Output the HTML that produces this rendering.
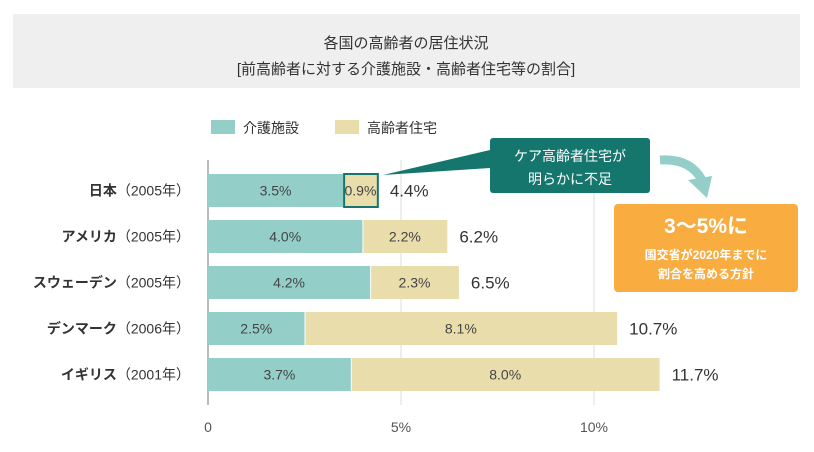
<!DOCTYPE html>
<html><head><meta charset="utf-8"><style>
body{margin:0;background:#fff;font-family:"Liberation Sans","Noto Sans CJK JP",sans-serif}
svg text{font-family:"Liberation Sans","Noto Sans CJK JP",sans-serif}
</style></head><body>
<svg id="chart" width="814" height="447" xmlns="http://www.w3.org/2000/svg">
<rect x="13" y="14" width="787" height="74" fill="#efefef"/>
<text x="406" y="48" text-anchor="middle" font-size="15" fill="#333">各国の高齢者の居住状況</text>
<text x="406" y="74" text-anchor="middle" font-size="15" fill="#333">[前高齢者に対する介護施設・高齢者住宅等の割合]</text>
<rect x="211" y="120" width="24" height="14" fill="#93cfc8"/>
<text x="243" y="133" font-size="14" fill="#333">介護施設</text>
<rect x="335" y="120" width="24" height="14" fill="#e9ddab"/>
<text x="367" y="133" font-size="14" fill="#333">高齢者住宅</text>
<g id="grid"></g><g id="bars"></g>
<polygon points="383,175 490,150 490,168" fill="#14766d"/>
<rect x="490" y="138" width="160" height="55" rx="3" fill="#14766d"/>
<text x="570" y="161" text-anchor="middle" font-size="14" fill="#fff">ケア高齢者住宅が</text>
<text x="570" y="184" text-anchor="middle" font-size="14" fill="#fff">明らかに不足</text>
<path d="M660,160 Q690,158 702,180" stroke="#93cfc8" stroke-width="9" fill="none"/>
<polygon points="688,180 712,176 707,198" fill="#93cfc8"/>
<rect x="614" y="204" width="184" height="88" rx="4" fill="#f9ac3f"/>
<text x="706" y="233" text-anchor="middle" font-size="21" font-weight="bold" fill="#fff">3〜5%に</text>
<text x="706" y="259" text-anchor="middle" font-size="12" font-weight="bold" fill="#fff">国交省が2020年までに</text>
<text x="706" y="278" text-anchor="middle" font-size="12" font-weight="bold" fill="#fff">割合を高める方針</text>
</svg>
<script>
const countries=["日本","アメリカ","スウェーデン","デンマーク","イギリス"];
const years=["（2005年）","（2005年）","（2005年）","（2006年）","（2001年）"];
const care=[3.5,4.0,4.2,2.5,3.7];
const housing=[0.9,2.2,2.3,8.1,8.0];
const totals=[4.4,6.2,6.5,10.7,11.7];
const ticks=[0,5,10];
const tickLabels=["0","5%","10%"];
const NS="http://www.w3.org/2000/svg";
const x0=208,k=38.6;
const X=v=>x0+v*k;
const Y=i=>174+i*46;
function mk(tag,a,p){const e=document.createElementNS(NS,tag);for(const n in a)e.setAttribute(n,a[n]);p.appendChild(e);return e;}
const g=document.getElementById('grid'),b=document.getElementById('bars');
ticks.forEach((t,i)=>{
 if(t>0){const l=mk('line',{x1:X(t),x2:X(t),y1:160,y2:405,stroke:'#ddd','stroke-width':1},g);
 
 }
 const tx=mk('text',{x:X(t),y:432,'text-anchor':'middle','font-size':14,fill:'#555'},g);tx.textContent=tickLabels[i];
 
 
});
const ax=mk('line',{x1:x0,x2:x0,y1:160,y2:405,stroke:'#bbb','stroke-width':2},g);


countries.forEach((c,i)=>{
 const y=Y(i),h=33,cy=y+h/2+5;
 const lab=mk('text',{x:190,y:cy,'text-anchor':'end','font-size':14,fill:'#333'},b);
 lab.innerHTML='<tspan font-weight="bold">'+c+'</tspan>'+years[i];
 
 
 const r1=mk('rect',{x:x0,y:y,width:X(care[i])-x0,height:h,fill:'#93cfc8'},b);
 
 
 const r2=mk('rect',{x:X(care[i])+1,y:y,width:X(care[i]+housing[i])-X(care[i])-1,height:h,fill:'#e9ddab'},b);
 
 
 if(i===0){r2.setAttribute('stroke','#14766d');r2.setAttribute('stroke-width','2');}
 const t1=mk('text',{x:(x0+X(care[i]))/2,y:cy,'text-anchor':'middle','font-size':14,fill:'#444'},b);t1.textContent=care[i].toFixed(1)+'%';
 
 
 const t2=mk('text',{x:(X(care[i])+X(care[i]+housing[i]))/2,y:cy,'text-anchor':'middle','font-size':14,fill:'#444'},b);t2.textContent=housing[i].toFixed(1)+'%';
 
 
 const t3=mk('text',{x:X(care[i]+housing[i])+12,y:cy+1,'font-size':17,fill:'#333'},b);t3.textContent=totals[i].toFixed(1)+'%';
 
 
});
</script>
</body></html>
